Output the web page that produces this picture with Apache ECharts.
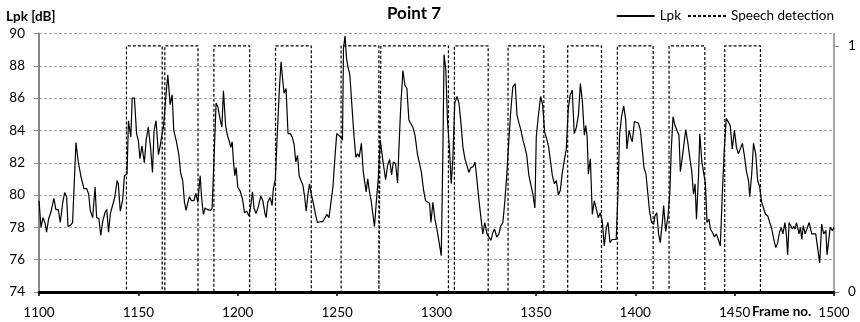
<!DOCTYPE html>
<html>
<head>
<meta charset="utf-8">
<script src="https://cdn.jsdelivr.net/npm/echarts@6/dist/echarts.min.js"></script>
<style>html,body{margin:0;padding:0;background:#fff}#c{width:860px;height:322px}</style>
</head>
<body>
<div id="c"></div>
<script>
const chartTitle = 'Point 7';
const yAxisTitle = 'Lpk [dB]';
const xAxisTitle = 'Frame no.';
const seriesNames = ['Lpk', 'Speech detection'];

const lpkFrames = [
1100.0,1101.0,1102.0,1103.1,1103.8,1104.8,1106.0,1106.8,1107.5,1108.5,1109.7,1110.7,1111.9,1112.9,1113.9,1114.6,1116.0,1116.9,1117.9,1118.6,
1119.7,1121.1,1122.6,1124.0,1125.0,1125.8,1127.0,1128.2,1129.0,1130.1,1131.1,1132.1,1133.3,1134.1,1135.0,1135.9,1136.9,1138.1,1139.3,1139.9,
1140.9,1142.1,1143.0,1143.6,1144.3,1145.0,1146.2,1146.9,1148.0,1149.1,1150.0,1150.8,1151.8,1153.0,1153.9,1155.0,1156.1,1157.1,1157.9,1158.9,
1160.1,1160.9,1161.8,1162.6,1163.5,1164.8,1166.0,1167.0,1167.8,1169.0,1170.3,1171.3,1172.3,1173.2,1174.0,1174.9,1175.7,1176.7,1177.9,1178.9,
1179.9,1181.1,1181.8,1182.7,1183.6,1184.7,1185.6,1186.4,1187.1,1188.1,1189.1,1190.0,1191.2,1192.0,1192.8,1193.9,1194.8,1195.8,1196.5,1197.2,
1197.8,1198.5,1199.2,1200.0,1201.2,1202.4,1203.4,1204.6,1205.6,1206.4,1207.4,1208.2,1209.2,1210.4,1211.6,1212.6,1213.7,1214.3,1215.1,1216.3,
1217.3,1217.9,1218.9,1219.9,1221.0,1221.8,1222.6,1223.3,1224.3,1225.3,1226.4,1227.4,1228.4,1229.2,1230.1,1230.9,1231.8,1232.8,1233.7,1234.4,
1235.4,1236.1,1236.9,1238.1,1239.1,1240.1,1241.5,1242.8,1243.8,1244.8,1245.9,1246.9,1247.9,1248.9,1249.8,1250.8,1251.8,1252.7,1253.2,1254.0,
1254.7,1255.4,1256.4,1257.4,1258.4,1259.4,1260.3,1261.1,1262.2,1263.1,1263.9,1264.6,1265.4,1266.3,1267.1,1268.0,1268.8,1269.7,1270.7,1271.7,
1273.0,1274.4,1275.4,1276.4,1277.4,1278.3,1279.4,1280.4,1281.4,1282.1,1283.1,1284.1,1285.1,1286.1,1287.1,1288.1,1289.2,1290.4,1291.4,1292.4,
1293.5,1294.5,1295.5,1296.5,1297.2,1298.2,1299.2,1300.2,1301.2,1302.4,1303.2,1303.8,1304.7,1305.5,1306.5,1307.4,1308.2,1309.2,1310.3,1311.3,
1312.3,1313.3,1314.3,1315.3,1316.3,1317.3,1318.4,1319.4,1320.3,1321.3,1322.3,1323.3,1324.3,1325.4,1326.4,1327.4,1328.4,1329.2,1330.3,1331.4,
1332.4,1333.4,1334.4,1335.4,1336.4,1337.4,1338.4,1339.6,1340.5,1341.5,1342.5,1343.5,1344.5,1345.4,1346.5,1347.5,1348.5,1349.5,1350.2,1351.2,
1352.4,1353.4,1354.4,1355.4,1356.4,1357.3,1358.3,1359.3,1360.3,1361.3,1362.3,1363.2,1364.3,1365.3,1366.3,1367.3,1368.3,1369.3,1370.4,1371.4,
1372.4,1373.4,1374.4,1375.1,1375.8,1376.4,1377.4,1378.4,1379.4,1380.4,1381.4,1382.4,1383.4,1384.4,1385.5,1386.3,1387.3,1388.3,1389.3,1390.4,
1391.3,1392.1,1393.1,1394.2,1395.2,1395.8,1396.9,1397.9,1398.5,1399.6,1400.6,1401.6,1402.6,1403.5,1404.4,1405.4,1406.2,1407.2,1408.2,1409.3,
1409.9,1410.8,1411.8,1412.6,1413.7,1414.3,1415.3,1416.4,1417.4,1418.1,1419.0,1420.0,1421.0,1422.0,1422.7,1423.7,1424.7,1425.4,1426.4,1427.4,
1428.4,1429.3,1430.1,1430.8,1431.8,1432.5,1433.5,1434.5,1435.3,1436.1,1437.1,1437.8,1438.8,1439.8,1440.8,1441.8,1442.8,1443.8,1444.8,1445.8,
1446.8,1447.8,1448.8,1449.9,1450.9,1451.9,1452.9,1453.9,1454.9,1455.9,1457.0,1457.6,1458.6,1459.5,1460.6,1461.6,1462.6,1463.6,1464.6,1465.6,
1466.7,1467.7,1468.7,1469.7,1470.7,1471.7,1472.4,1473.4,1474.3,1475.3,1476.0,1476.7,1477.4,1478.4,1479.1,1479.7,1480.4,1481.1,1481.7,1482.4,
1483.1,1483.8,1484.5,1485.5,1486.5,1487.5,1488.1,1488.8,1489.8,1490.8,1491.8,1492.8,1493.8,1494.8,1495.9,1496.5,1498.1,1499.2,1500.0
];

const lpkValues = [
79.65,78.0,78.6,78.25,77.7,78.5,78.95,78.85,79.8,79.1,79.1,78.3,79.5,80.15,79.9,78.05,78.15,78.3,78.3,83.25,
82.1,81.15,80.4,80.4,80.05,79.05,78.6,80.5,78.6,78.55,77.5,78.4,78.95,79.1,77.7,78.85,78.85,79.85,80.9,80.7,
79.0,79.7,81.2,81.15,81.3,84.6,83.6,86.0,86.0,83.8,83.35,82.25,83.05,82.0,83.4,84.2,83.0,81.4,84.0,84.6,
82.5,83.0,83.7,84.2,85.6,87.45,85.6,86.2,84.0,83.4,82.55,81.35,80.9,79.55,79.05,79.55,79.9,79.65,79.65,80.1,
79.55,81.2,79.85,78.8,79.2,79.1,79.2,79.05,79.2,82.35,85.7,85.45,84.65,84.2,86.45,84.3,83.7,83.3,82.95,83.3,
82.15,81.2,81.7,80.5,80.25,79.75,78.9,79.0,78.7,79.2,80.2,79.2,78.85,79.3,79.95,79.65,78.85,78.6,79.55,79.85,
79.35,80.4,80.95,83.8,86.7,88.25,87.15,86.3,86.6,83.8,83.8,83.6,83.1,82.05,82.45,81.2,80.9,80.6,79.85,79.0,
80.1,80.7,80.1,79.45,78.8,78.3,78.35,78.35,78.4,78.8,78.6,79.55,80.5,82.35,83.8,83.8,83.6,83.4,89.1,89.85,
88.5,87.95,87.45,85.6,83.8,82.35,82.55,82.35,83.2,81.5,81.6,80.2,81.0,80.2,79.65,79.55,78.05,79.55,81.0,83.4,
82.15,80.95,81.85,82.2,81.25,82.05,81.95,80.75,83.8,85.7,87.7,86.8,86.6,84.65,84.65,84.2,83.7,82.55,82.45,81.4,
80.3,79.65,79.65,79.5,78.3,79.55,78.5,77.9,77.8,76.25,82.55,88.7,87.75,84.65,82.95,80.7,82.15,85.7,86.1,85.7,
84.45,82.95,82.25,82.35,81.4,81.7,81.75,82.05,81.0,79.75,78.65,77.6,78.3,77.6,77.4,77.2,77.7,77.9,77.4,77.6,
78.1,78.3,79.65,81.3,83.4,85.25,86.7,86.9,84.95,84.45,84.0,83.4,82.95,82.45,81.2,81.1,80.05,79.2,83.6,84.85,
86.1,85.6,83.9,83.5,83.0,82.15,81.2,80.7,80.9,80.0,80.3,81.3,82.15,82.85,85.35,86.2,86.5,83.8,84.2,84.95,
86.9,85.8,83.7,84.3,83.6,81.3,82.25,78.8,79.65,79.65,78.6,78.9,78.4,76.85,78.0,78.3,77.05,77.25,77.15,77.25,
80.05,83.7,84.85,85.5,84.65,82.85,84.0,83.5,83.3,84.55,84.65,84.45,84.0,82.85,81.7,81.3,80.25,79.0,78.3,78.2,
78.7,78.9,77.55,77.05,78.4,79.35,77.75,78.6,80.15,82.75,84.85,84.3,84.3,83.7,81.45,82.35,82.45,84.05,83.3,82.35,
81.5,80.05,80.7,78.5,81.1,83.8,82.05,81.95,80.7,78.3,78.5,77.9,77.7,77.4,77.6,77.25,76.85,80.05,82.85,84.75,
84.85,84.3,82.85,84.0,82.95,82.55,82.55,83.2,82.45,81.5,80.9,79.9,81.3,83.2,82.55,80.9,80.5,79.55,79.45,78.8,
78.7,78.6,77.9,77.25,76.75,77.05,77.6,78.0,77.6,78.3,77.6,76.3,78.3,78.2,77.9,78.05,77.9,78.3,78.0,77.6,
78.0,77.25,78.1,77.6,77.5,78.3,78.3,77.6,77.5,77.6,77.5,75.8,78.2,77.6,77.8,76.3,78.0,77.8,78.0
];

// Speech detection: frames where detection switches on (to 1) and off (to 0)
const speechOn  = [1144, 1163.3, 1188, 1219, 1252, 1272, 1309, 1336, 1366, 1391, 1417, 1445];
const speechOff = [1162, 1180, 1206, 1237, 1271, 1306, 1326, 1354, 1383, 1409, 1435, 1463];

const lpkData = lpkFrames.map((f, i) => [f, lpkValues[i]]);
const speechData = [[1100, 0]];
speechOn.forEach((on, i) => {
  speechData.push([on, 0], [on, 1], [speechOff[i], 1], [speechOff[i], 0]);
});
speechData.push([1500, 0]);

const FONT = 'Lato';
const chart = echarts.init(document.getElementById('c'), null, {renderer: 'canvas'});
chart.setOption({
  animation: false,
  backgroundColor: '#fff',
  textStyle: {fontFamily: FONT, color: '#000'},
  title: [
    {text: chartTitle, left: 387, top: 5, padding: 0,
     textStyle: {fontFamily: FONT, fontSize: 17, fontWeight: 'bold', color: '#000'}},
    {text: yAxisTitle, left: 6, top: 10, padding: 0,
     textStyle: {fontFamily: FONT, fontSize: 13.5, fontWeight: 'bold', color: '#000'}},
    {text: xAxisTitle, left: 752, top: 305, padding: 0,
     textStyle: {fontFamily: FONT, fontSize: 13.5, fontWeight: 'bold', color: '#000'}}
  ],
  legend: {
    data: seriesNames, right: 26, top: 9, padding: 0,
    itemWidth: 38, itemHeight: 10, itemGap: 6,
    itemStyle: {opacity: 0},
    textStyle: {fontFamily: FONT, fontSize: 13.5, color: '#000'}
  },
  grid: {left: 39, right: 26, top: 33.5, bottom: 30, outerBoundsMode: 'none'},
  xAxis: {
    type: 'value', min: 1100, max: 1500, interval: 50,
    axisLine: {lineStyle: {color: '#000', width: 3}},
    axisTick: {show: true, length: 4, lineStyle: {color: '#000', width: 1.5}},
    axisLabel: {fontFamily: FONT, fontSize: 13.5, color: '#000', margin: 14,
                formatter: v => String(v)},
    splitLine: {show: false}
  },
  yAxis: [
    {
      type: 'value', min: 74, max: 90, interval: 2,
      axisLine: {show: true, lineStyle: {color: '#868686', width: 2}},
      axisTick: {show: true, length: 5, lineStyle: {color: '#868686'}},
      axisLabel: {fontFamily: FONT, fontSize: 13.5, color: '#000', margin: 14},
      splitLine: {show: true, lineStyle: {color: '#a6a6a6', width: 1, type: [3, 2]}}
    },
    {
      type: 'value', min: 0, max: 1.05, position: 'right',
      axisLine: {show: true, lineStyle: {color: '#868686', width: 1.5}},
      axisTick: {show: true, length: 5, customValues: [0, 1], lineStyle: {color: '#868686'}},
      axisLabel: {fontFamily: FONT, fontSize: 13.5, color: '#000', margin: 14, customValues: [0, 1]},
      splitLine: {show: false}
    }
  ],
  series: [
    {name: seriesNames[0], type: 'line', data: lpkData, symbol: 'none', z: 3,
     lineStyle: {color: '#000', width: 1.2}, itemStyle: {color: '#000'}},
    {name: seriesNames[1], type: 'line', yAxisIndex: 1, data: speechData, symbol: 'none', z: 2,
     lineStyle: {color: '#000', width: 1.2, type: [3, 2]}, itemStyle: {color: '#000'}}
  ]
});
</script>
</body>
</html>
